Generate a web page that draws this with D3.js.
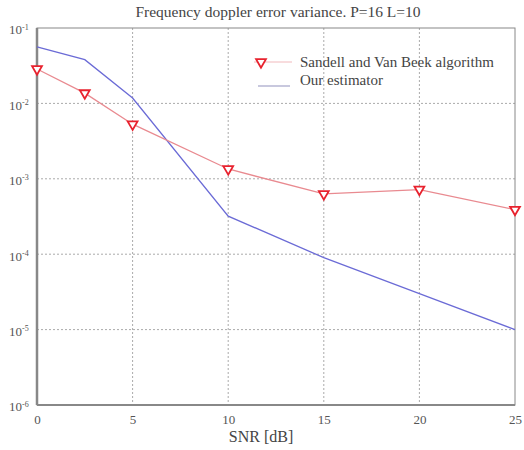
<!DOCTYPE html>
<head>
  <meta charset="utf-8">
  <style>
    body { margin: 0; background: #fff; }
    svg text { font-family: 'Liberation Serif', 'DejaVu Serif', serif; fill: #444; }
    .grid line { stroke: #aaa; stroke-dasharray: 2,2; stroke-width: 1; }
    .axis path, .axis line { stroke: #888; }
  </style>
</head>
<body>
<svg id="chart" width="524" height="450"></svg>
<script src="https://cdn.jsdelivr.net/npm/d3@7"></script>
<script>
  var snr = [0, 2.5, 5, 10, 15, 20, 25];
  var sandell = [0.0286, 0.0137, 0.0053, 0.00135, 0.00063, 0.00072, 0.00039];
  var ours = [0.056, 0.038, 0.0118, 0.00032, 0.000090, 0.000030, 0.0000100];
  var xTicks = [0, 5, 10, 15, 20, 25];
  var yTicks = [1e-1, 1e-2, 1e-3, 1e-4, 1e-5, 1e-6];
  var yExp = ["-1", "-2", "-3", "-4", "-5", "-6"];
  var legendNames = ["Sandell and Van Beek algorithm", "Our estimator"];
  var title = "Frequency doppler error variance. P=16 L=10";

  var svg = d3.select("#chart");
  var margin = { top: 28, right: 9, bottom: 45, left: 37 };
  var width = 524 - margin.left - margin.right;
  var height = 450 - margin.top - margin.bottom;
  var g = svg.append("g").attr("transform", "translate(" + margin.left + "," + margin.top + ")");

  var x = d3.scaleLinear().domain([0, 25]).range([0, width]);
  var y = d3.scaleLog().domain([1e-6, 1e-1]).range([height, 0]);

  // grid
  var grid = g.append("g").attr("class", "grid");
  grid.selectAll(".gx").data(xTicks.slice(1, -1)).enter().append("line")
    .attr("x1", x).attr("x2", x).attr("y1", 0).attr("y2", height);
  grid.selectAll(".gy").data(yTicks.slice(1, -1)).enter().append("line")
    .attr("y1", y).attr("y2", y).attr("x1", 0).attr("x2", width);

  // box
  g.append("rect").attr("width", width).attr("height", height)
    .attr("fill", "none").attr("stroke", "#888").attr("stroke-width", 1);
  g.append("line").attr("x1", 0).attr("x2", 0).attr("y1", 0).attr("y2", height)
    .attr("stroke", "#888").attr("stroke-width", 2.5);
  g.append("line").attr("x1", 0).attr("x2", width).attr("y1", height).attr("y2", height)
    .attr("stroke", "#888").attr("stroke-width", 2);

  // x axis labels
  var xa = g.append("g").attr("class", "axis")
    .attr("transform", "translate(0," + height + ")")
    .call(d3.axisBottom(x).tickValues(xTicks).tickSize(0).tickPadding(10).tickFormat(d3.format("d")));
  xa.select(".domain").remove();
  xa.selectAll("text").style("font-size", "13px").style("fill", "#555")
    .attr("font-family", "Liberation Serif, serif");

  // y axis labels
  var ya = g.append("g").attr("class", "axis")
    .call(d3.axisLeft(y).tickValues(yTicks).tickSize(0).tickFormat(""));
  ya.select(".domain").remove();
  ya.selectAll(".tick text").remove();
  ya.selectAll(".tick").append("text")
    .attr("x", -28).attr("dy", "0.45em")
    .attr("text-anchor", "start")
    .attr("font-family", "Liberation Serif, serif")
    .style("font-size", "13px").style("fill", "#555")
    .text("10")
    .append("tspan").attr("dy", "-0.6em").style("font-size", "8px")
    .text(function(d, i) { return yExp[i]; });

  var line = d3.line().x(function(d, i) { return x(snr[i]); }).y(function(d) { return y(d); });

  g.append("path").datum(ours).attr("d", line)
    .attr("fill", "none").attr("stroke", "#6b6bd6").attr("stroke-width", 1.3);
  g.append("path").datum(sandell).attr("d", line)
    .attr("fill", "none").attr("stroke", "#e98a90").attr("stroke-width", 1.3);

  var tri = d3.symbol().type(d3.symbolTriangle).size(42);
  g.selectAll(".mk").data(sandell).enter().append("path")
    .attr("d", tri)
    .attr("transform", function(d, i) { return "translate(" + x(snr[i]) + "," + y(d) + ") rotate(180)"; })
    .attr("fill", "#fff").attr("stroke", "#e8222e").attr("stroke-width", 1.8);

  // legend
  var lg = svg.append("g").attr("transform", "translate(254,0)");
  lg.append("line").attr("x1", 0).attr("x2", 38).attr("y1", 62).attr("y2", 62)
    .attr("stroke", "#f1b9bc").attr("stroke-width", 1);
  lg.append("path").attr("d", tri)
    .attr("transform", "translate(7,62) rotate(180)")
    .attr("fill", "#fff").attr("stroke", "#e8222e").attr("stroke-width", 1.8);
  lg.append("line").attr("x1", 4).attr("x2", 36).attr("y1", 86).attr("y2", 86)
    .attr("stroke", "#aaaacc").attr("stroke-width", 1.3);
  lg.selectAll(".lt").data(legendNames).enter().append("text")
    .attr("x", 46).attr("y", function(d, i) { return 67 + i * 18; })
    .style("font-size", "15px").style("fill", "#444")
    .text(function(d) { return d; });

  // title and label
  svg.append("text").attr("x", 278).attr("y", 17).attr("text-anchor", "middle")
    .style("font-size", "15.5px").text(title);
  svg.append("text").attr("x", 261).attr("y", 442).attr("text-anchor", "middle")
    .style("font-size", "16px").text("SNR [dB]");
</script>
</body>
